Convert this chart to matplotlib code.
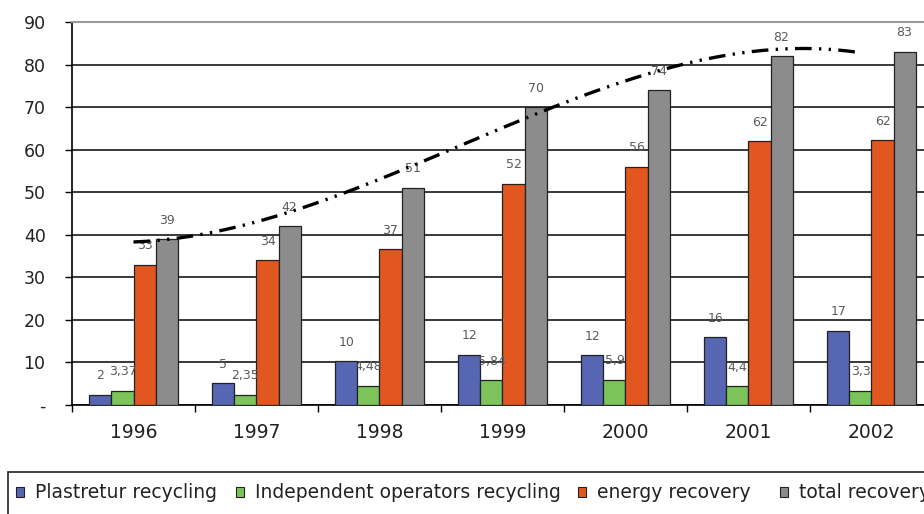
import numpy as np
import matplotlib.pyplot as plt
from matplotlib.patches import Rectangle, Patch

plt.rcParams['font.family'] = ['DejaVu Sans']

# data
years = ['1996', '1997', '1998', '1999', '2000', '2001', '2002']
plastretur = [2.4, 5.1, 10.3, 11.8, 11.7, 15.9, 17.4]
independent = [3.37, 2.35, 4.48, 5.84, 5.9, 4.4, 3.3]
energy = [33, 34, 36.6, 52, 56, 62, 62.2]
total = [39, 42, 51, 70, 74, 82, 83]

plastretur_lbl = ['2', '5', '10', '12', '12', '16', '17']
independent_lbl = ['3,37', '2,35', '4,48', '5,84', '5,9', '4,4', '3,3']
energy_lbl = ['33', '34', '37', '52', '56', '62', '62']
total_lbl = ['39', '42', '51', '70', '74', '82', '83']

series = [
    ('Plastretur recycling', plastretur, plastretur_lbl, '#5666b2'),
    ('Independent operators recycling', independent, independent_lbl, '#7cc35a'),
    ('energy recovery', energy, energy_lbl, '#e2561f'),
    ('total recovery', total, total_lbl, '#8c8c8c'),
]

fig = plt.figure(figsize=(9.24, 5.14), dpi=100)
ax = fig.add_axes([72/924, 1-405/514, (933-72)/924, (405-22)/514])

x = np.arange(len(years))
w = 0.179
for i, (name, vals, lbls, col) in enumerate(series):
    pos = x + (i - 1.5) * w
    ax.bar(pos, vals, width=w, color=col, edgecolor='#222222', linewidth=0.9, zorder=3)
    for px, v, t in zip(pos, vals, lbls):
        ax.annotate(t, (px, v), xytext=(0, 9), textcoords='offset points',
                    ha='center', va='bottom', fontsize=9, color='#5a5a5a', zorder=4)

# polynomial trendline of total recovery
coef = np.polyfit(x, total, 3)
xs = np.linspace(0, 5.9, 200)
ax.plot(xs, np.polyval(coef, xs), color='black', linewidth=2.4,
        linestyle=(0, (5, 2.2, 0.7, 2.2, 0.7, 2.2)), zorder=5)

ax.set_xlim(-0.5, 6.5)
ax.set_ylim(0, 90)
ax.set_yticks(range(0, 91, 10))
ax.set_yticklabels(['-'] + [str(v) for v in range(10, 91, 10)])
ax.yaxis.grid(True, color='#2a2a2a', linewidth=1.3, zorder=0)
ax.set_xticks(x)
ax.set_xticklabels(years)
ax.set_xticks(np.arange(-0.5, 7, 1), minor=True)
ax.tick_params(axis='x', which='major', length=0, pad=13, labelsize=13.5, labelcolor='#222222')
ax.tick_params(axis='x', which='minor', length=5, width=1, direction='out')
ax.tick_params(axis='y', length=5, width=1, labelsize=12.5, pad=14, labelcolor='#222222')
ax.spines['right'].set_visible(False)
ax.spines['top'].set_color('#999999')
ax.spines['top'].set_linewidth(1.5)
ax.spines['left'].set_linewidth(1.2)
ax.spines['bottom'].set_linewidth(1.2)

# legend box, cut off by the figure edge like the original
fig.patches.append(Rectangle((8/924, -0.2), 1.0, 0.2 + 1 - 472/514,
                             transform=fig.transFigure, fill=False,
                             edgecolor='#222222', linewidth=1.2))
# one legend per entry so each one sits where the original has it
legend_x = [16, 236, 578, 780]
for (name, _, _, col), lx in zip(series, legend_x):
    h = Patch(facecolor=col, edgecolor='#222222', linewidth=0.8)
    leg = fig.legend([h], [name], loc='center left',
                     bbox_to_anchor=(lx/924, 1-493/514), frameon=False,
                     fontsize=13.5, handlelength=0.45, handleheight=0.45,
                     handletextpad=0.55, borderpad=0, borderaxespad=0,
                     labelcolor='#222222')

fig.savefig('out.png', dpi=100)
